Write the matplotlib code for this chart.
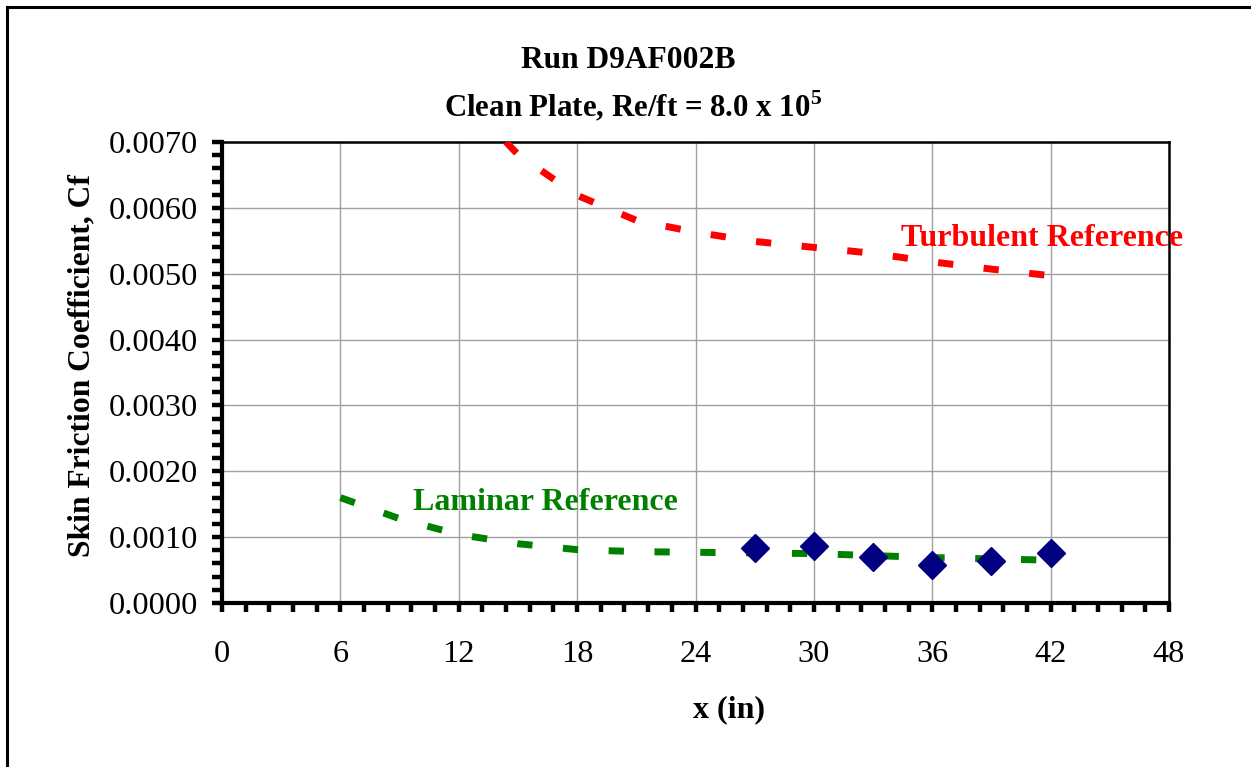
import numpy as np
import matplotlib
matplotlib.use("Agg")
import matplotlib.pyplot as plt
from matplotlib.lines import Line2D
from matplotlib.ticker import MultipleLocator

plt.rcParams['font.family'] = ['Liberation Serif', 'DejaVu Serif']
plt.rcParams['mathtext.fontset'] = 'custom'
plt.rcParams['mathtext.rm'] = 'Liberation Serif:bold'
plt.rcParams['mathtext.bf'] = 'Liberation Serif:bold'

# measured skin friction
x_meas = [27, 30, 33, 36, 39, 42]
cf_meas = [0.00083, 0.00086, 0.00070, 0.00057, 0.00064, 0.00076]

# reference curves
x_lam = [6, 9, 12, 15, 18, 21, 24, 27, 30, 33, 36, 39, 42]
cf_lam = [0.00160, 0.00128, 0.00104, 0.00090, 0.00081, 0.00078, 0.00077,
          0.00076, 0.00075, 0.00072, 0.00069, 0.00067, 0.00065]

x_turb = [14.4, 15, 18, 21, 24, 27, 30, 33, 36, 39, 42]
cf_turb = [0.00700, 0.00681, 0.00619, 0.00581, 0.00563, 0.00549, 0.00540,
           0.00531, 0.00518, 0.00507, 0.00497]

fig = plt.figure(figsize=(12.51, 7.67), dpi=100)
ax = fig.add_axes([222/1251, 1-603/767, (1169-222)/1251, (603-142)/767])

dash = (0, (2.2, 4.4))
ax.plot(x_turb, cf_turb, color='red', lw=5, linestyle=dash,
        dash_capstyle='butt', zorder=3)
ax.plot(x_lam, cf_lam, color='#008000', lw=5, linestyle=dash,
        dash_capstyle='butt', zorder=3)
ax.plot(x_meas, cf_meas, linestyle='none', marker='D', ms=14,
        color='#000080', zorder=4)

ax.set_xlim(0, 48)
ax.set_ylim(0, 0.007)
ax.xaxis.set_major_locator(MultipleLocator(6))
ax.xaxis.set_minor_locator(MultipleLocator(1.2))
ax.yaxis.set_major_locator(MultipleLocator(0.001))
ax.yaxis.set_minor_locator(MultipleLocator(0.0002))
ax.yaxis.set_major_formatter(matplotlib.ticker.FormatStrFormatter('%.4f'))

ax.grid(True, which='major', color='#a0a0a0', lw=1)
ax.set_axisbelow(True)

for s in ['left', 'bottom']:
    ax.spines[s].set_linewidth(3)
for s in ['top', 'right']:
    ax.spines[s].set_linewidth(1.8)

ax.tick_params(axis='x', which='both', direction='out', length=6.5, width=3.2,
               labelsize=23.3, pad=20)
ax.tick_params(axis='y', which='both', direction='out', length=7, width=3.2,
               labelsize=23.3, pad=10)

ax.set_xlabel('x (in)', fontsize=23, fontweight='bold')
ax.xaxis.set_label_coords(0.535, -(710 - 603) / 461)
ax.set_ylabel('Skin Friction Coefficient, Cf', fontsize=22.7, fontweight='bold')
ax.yaxis.set_label_coords(-(222 - 82) / 947, (603 - 366) / 461)
ax.xaxis.label.set_va('center')
ax.yaxis.label.set_va('center')

fig.text(628/1251, 1-60/767, 'Run D9AF002B', ha='center', va='center',
         fontsize=22.7, fontweight='bold')
fig.text(633/1251, 1-106/767, r'Clean Plate, Re/ft = 8.0 x 10$^{5}$',
         ha='center', va='center', fontsize=22.2, fontweight='bold')

ax.text(41.56, 0.00554, 'Turbulent Reference', color='red', fontsize=23,
        fontweight='bold', ha='center', va='center', clip_on=False)
ax.text(16.4, 0.00152, 'Laminar Reference', color='#008000', fontsize=23,
        fontweight='bold', ha='center', va='center')

# outer frame (left and top edges visible)
fig.add_artist(Line2D([7/1251, 7/1251], [0, 1-7/767], color='black', lw=2.2,
                      transform=fig.transFigure))
fig.add_artist(Line2D([7/1251, 1], [1-7/767, 1-7/767], color='black', lw=2.2,
                      transform=fig.transFigure))

fig.savefig('out.png', dpi=100)
